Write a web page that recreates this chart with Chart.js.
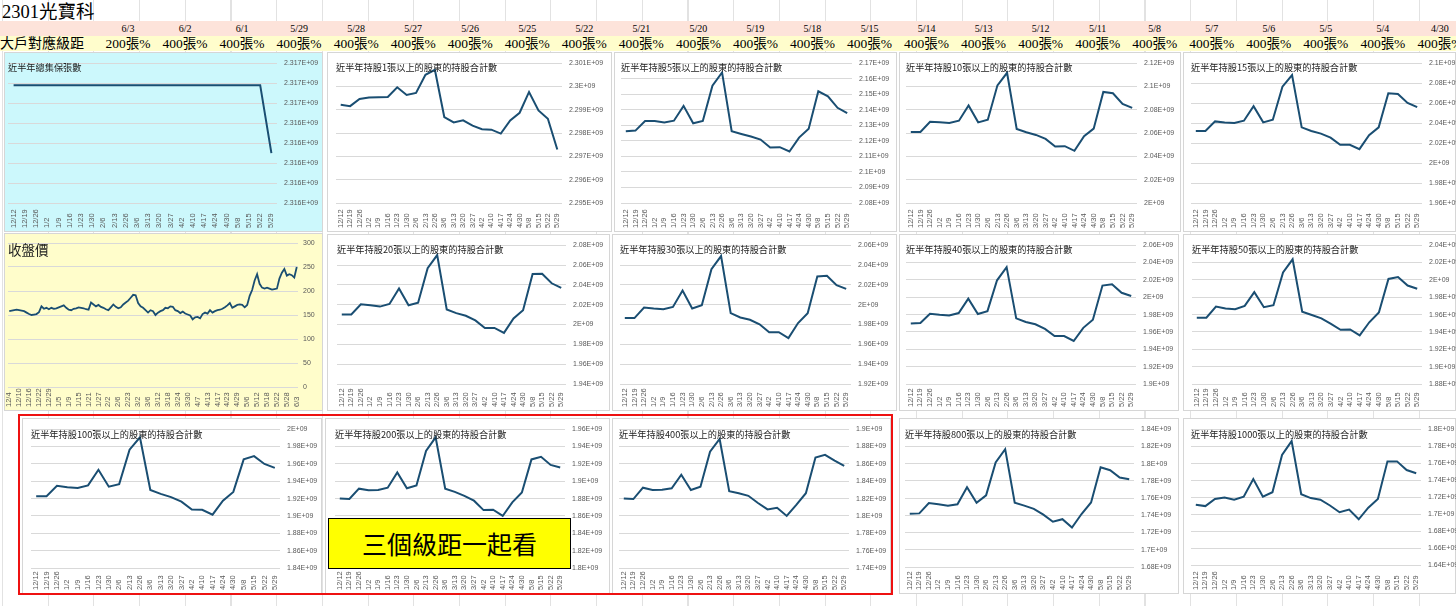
<!DOCTYPE html>
<html>
<head>
<meta charset="utf-8">
<script src="https://cdn.jsdelivr.net/npm/chart.js@4.4.0/dist/chart.umd.min.js"></script>
<style>
body{margin:0;width:1456px;height:606px;overflow:hidden;position:relative;background:#fff;
  background-image:repeating-linear-gradient(to right,#e2e2e2 0 1px,transparent 1px 45.7px);
  background-position:2px 0;font-family:"Liberation Serif","Noto Sans CJK TC",serif;}
.abs{position:absolute;}
.panel{position:absolute;outline:1px solid #d6d6d6;outline-offset:-1px;background:#fff;}
.panel canvas{position:absolute;left:0;top:0;}
#sheetTitle{left:2px;top:1px;font-size:18.5px;line-height:22px;}
#rowDates{left:0;top:21px;width:1456px;height:15px;background:#fde3da;}
#rowLevels{left:0;top:36px;width:1456px;height:15px;background:#fffdcc;}
.cell{position:absolute;top:0;width:56px;margin-left:-28px;text-align:center;white-space:nowrap;}
#rowDates .cell{font-size:10px;line-height:16px;}
#rowLevels .cell{font-size:13.5px;line-height:15px;}
#levelHead{left:0;top:0;font-size:14px;line-height:15px;}
#redBox{left:18px;top:414px;width:871px;height:177px;border:2px solid #ee1111;z-index:5;}
#noteBox{left:328px;top:518px;width:241px;height:49px;border:1px solid #000;background:#ffff00;z-index:6;
  font-family:"Noto Sans CJK TC",sans-serif;font-size:25px;line-height:49px;text-align:center;}
</style>
</head>
<body>
<div class="abs" id="sheetTitle">2301光寶科</div>
<div class="abs" id="rowDates"></div>
<div class="abs" id="rowLevels"><div class="abs" id="levelHead">大戶對應級距</div></div>

<script>
// header row
var headerDates = ['6/3','6/2','6/1','5/29','5/28','5/27','5/26','5/25','5/22','5/21','5/20','5/19',
  '5/18','5/15','5/14','5/13','5/12','5/11','5/8','5/7','5/6','5/5','5/4','4/30'];
var headerLevels = ['200張%','400張%','400張%','400張%','400張%','400張%','400張%','400張%','400張%',
  '400張%','400張%','400張%','400張%','400張%','400張%','400張%','400張%','400張%','400張%','400張%',
  '400張%','400張%','400張%','400張%'];

// weekly holder data
var weekDates = ['12/12','12/19','12/26','1/2','1/9','1/16','1/23','1/30','2/6','2/13','2/26','3/6',
  '3/13','3/20','3/27','4/2','4/10','4/17','4/24','4/30','5/8','5/15','5/22','5/29'];

var totalShares = [2.316518e9,2.316518e9,2.316518e9,2.316518e9,2.316518e9,2.316518e9,2.316518e9,2.316518e9,
  2.316518e9,2.316518e9,2.316518e9,2.316518e9,2.316518e9,2.316518e9,2.316518e9,2.316518e9,2.316518e9,
  2.316518e9,2.316518e9,2.316518e9,2.316518e9,2.316518e9,2.316518e9,2.31645e9];
var hold1 = [2.299213e9,2.299156e9,2.299468e9,2.299525e9,2.299539e9,2.299553e9,2.299965e9,2.299638e9,
  2.299723e9,2.300504e9,2.300716e9,2.298688e9,2.298461e9,2.298546e9,2.298319e9,2.298163e9,2.298149e9,
  2.297979e9,2.298546e9,2.298872e9,2.299766e9,2.298972e9,2.298617e9,2.297298e9];
var hold5 = [2.12617e9,2.12660e9,2.13277e9,2.13277e9,2.13191e9,2.13298e9,2.14255e9,2.13128e9,2.13277e9,
  2.15553e9,2.16404e9,2.12617e9,2.12447e9,2.12277e9,2.12085e9,2.11574e9,2.11596e9,2.11319e9,2.12213e9,
  2.12787e9,2.15191e9,2.14872e9,2.14128e9,2.13787e9];
var hold10 = [2.0610e9,2.0610e9,2.06979e9,2.06922e9,2.06865e9,2.07064e9,2.08369e9,2.06922e9,2.07149e9,
  2.10099e9,2.11177e9,2.06355e9,2.06071e9,2.05844e9,2.05504e9,2.04851e9,2.04879e9,2.04482e9,2.05730e9,
  2.06383e9,2.09532e9,2.09418e9,2.08511e9,2.08170e9];
var hold15 = [2.03212e9,2.03212e9,2.04172e9,2.04073e9,2.04007e9,2.04238e9,2.05695e9,2.04073e9,2.04338e9,
  2.07649e9,2.08808e9,2.03576e9,2.03212e9,2.02947e9,2.02550e9,2.01821e9,2.01821e9,2.01391e9,2.02781e9,
  2.03576e9,2.06987e9,2.06921e9,2.06026e9,2.05596e9];
var hold20 = [2.01013e9,2.01013e9,2.02040e9,2.01940e9,2.01808e9,2.02073e9,2.03629e9,2.01940e9,2.02205e9,
  2.05682e9,2.07007e9,2.01510e9,2.01146e9,2.00881e9,2.00417e9,1.99656e9,1.99656e9,1.99159e9,2.00616e9,
  2.01444e9,2.05086e9,2.05119e9,2.04159e9,2.03695e9];
var hold30 = [1.98649e9,1.98649e9,1.99709e9,1.99609e9,1.99543e9,1.99775e9,2.01430e9,1.99609e9,1.99940e9,
  2.03583e9,2.04907e9,1.99146e9,1.98715e9,1.98483e9,1.98020e9,1.97225e9,1.97225e9,1.96629e9,1.98152e9,
  1.99146e9,2.02854e9,2.02921e9,2.01960e9,2.01596e9];
var hold40 = [1.96964e9,1.97040e9,1.98098e9,1.97985e9,1.97909e9,1.98174e9,1.99837e9,1.98060e9,1.98401e9,
  2.01955e9,2.03467e9,1.97569e9,1.97153e9,1.96888e9,1.96359e9,1.95527e9,1.95527e9,1.94960e9,1.96473e9,
  1.97418e9,2.01350e9,2.01501e9,2.00518e9,2.00140e9];
var hold50 = [1.95645e9,1.95645e9,1.96930e9,1.96703e9,1.96628e9,1.97006e9,1.98594e9,1.96854e9,1.97081e9,
  2.00862e9,2.02374e9,1.96325e9,1.95947e9,1.95569e9,1.94926e9,1.94246e9,1.94284e9,1.93603e9,1.95115e9,
  1.96250e9,2.00106e9,2.00333e9,1.99350e9,1.98972e9];
var hold100 = [1.92285e9,1.92285e9,1.93483e9,1.93296e9,1.93221e9,1.93521e9,1.95318e9,1.93371e9,1.93670e9,
  1.97640e9,1.99064e9,1.92996e9,1.92547e9,1.92172e9,1.91648e9,1.90749e9,1.90712e9,1.90150e9,1.91760e9,
  1.92772e9,1.96517e9,1.96891e9,1.95993e9,1.95543e9];
var hold200 = [1.88022e9,1.87948e9,1.89146e9,1.88959e9,1.88996e9,1.89258e9,1.91019e9,1.89184e9,1.89521e9,
  1.93491e9,1.95064e9,1.89146e9,1.88772e9,1.88322e9,1.87760e9,1.86674e9,1.86712e9,1.86000e9,1.87573e9,
  1.88697e9,1.92517e9,1.92816e9,1.91880e9,1.91581e9];
var hold400 = [1.82022e9,1.81948e9,1.83258e9,1.82996e9,1.83034e9,1.83184e9,1.84757e9,1.82996e9,1.83371e9,
  1.87416e9,1.88876e9,1.82846e9,1.82622e9,1.82322e9,1.81498e9,1.80749e9,1.80936e9,1.80000e9,1.81273e9,
  1.82622e9,1.86742e9,1.87041e9,1.86367e9,1.85768e9];
var hold800 = [1.74187e9,1.74225e9,1.75423e9,1.75273e9,1.75124e9,1.75273e9,1.77258e9,1.75461e9,1.76322e9,
  1.80142e9,1.81678e9,1.75461e9,1.75124e9,1.74749e9,1.74075e9,1.73251e9,1.73551e9,1.72577e9,1.74150e9,
  1.75498e9,1.79581e9,1.79243e9,1.78382e9,1.78195e9];
var hold1000 = [1.71090e9,1.70938e9,1.71773e9,1.71962e9,1.71697e9,1.72038e9,1.74123e9,1.72038e9,1.72569e9,
  1.76967e9,1.78597e9,1.72341e9,1.71886e9,1.71697e9,1.71014e9,1.70218e9,1.70521e9,1.69384e9,1.70749e9,
  1.71773e9,1.76209e9,1.76209e9,1.75185e9,1.74806e9];

// daily close
var dayDates = ['12/4','12/5','12/8','12/9','12/10','12/11','12/12','12/15','12/16','12/17','12/18','12/19',
  '12/22','12/23','12/24','12/26','12/29','12/30','12/31',
  '1/2','1/5','1/6','1/7','1/8','1/9','1/12','1/13','1/14','1/15','1/16','1/19','1/20','1/21','1/22','1/23',
  '1/26','1/27','1/28','1/29','1/30',
  '2/2','2/3','2/4','2/5','2/6','2/9','2/10','2/11','2/23','2/24','2/25','2/26',
  '3/2','3/3','3/4','3/5','3/6','3/9','3/10','3/11','3/12','3/13','3/16','3/17','3/18','3/19','3/20',
  '3/23','3/24','3/25','3/26','3/27','3/30','3/31',
  '4/1','4/2','4/7','4/8','4/9','4/10','4/13','4/14','4/15','4/16','4/17','4/20','4/21','4/22','4/23',
  '4/24','4/27','4/28','4/29','4/30',
  '5/4','5/5','5/6','5/7','5/8','5/11','5/12','5/13','5/14','5/15','5/18','5/19','5/20','5/21','5/22',
  '5/25','5/26','5/27','5/28','5/29',
  '6/1','6/2','6/3'];
var closePrice = [158,159,160,161,160,159,158,155,152,150,151,152,156,168,163,165,162,165,163,
  164,166,168,170,165,161,160,163,164,166,165,164,162,161,176,172,168,171,167,165,162,
  160,166,172,167,164,166,172,176,180,186,192,191,
  175,168,165,160,155,160,158,150,155,158,160,165,164,168,167,160,158,154,157,153,151,149,
  141,145,146,143,152,155,153,160,155,158,160,161,163,166,170,175,165,168,171,172,
  171,166,171,190,202,222,235,215,207,205,207,205,203,204,205,226,238,246,232,235,
  233,228,250];

var chartTitles = ['近半年總集保張數','近半年持股1張以上的股東的持股合計數','近半年持股5張以上的股東的持股合計數',
  '近半年持股10張以上的股東的持股合計數','近半年持股15張以上的股東的持股合計數','收盤價',
  '近半年持股20張以上的股東的持股合計數','近半年持股30張以上的股東的持股合計數','近半年持股40張以上的股東的持股合計數',
  '近半年持股50張以上的股東的持股合計數','近半年持股100張以上的股東的持股合計數','近半年持股200張以上的股東的持股合計數',
  '近半年持股400張以上的股東的持股合計數','近半年持股800張以上的股東的持股合計數','近半年持股1000張以上的股東的持股合計數'];
var chartSeries = [totalShares,hold1,hold5,hold10,hold15,closePrice,hold20,hold30,hold40,hold50,
  hold100,hold200,hold400,hold800,hold1000];
var axisMin = [2.3164e9,2.295e9,2.08e9,2.00e9,1.96e9,0,1.94e9,1.92e9,1.90e9,1.88e9,1.84e9,1.80e9,1.74e9,1.68e9,1.64e9];
var axisMax = [2.31654e9,2.301e9,2.17e9,2.12e9,2.10e9,300,2.08e9,2.06e9,2.06e9,2.04e9,2.00e9,1.96e9,1.90e9,1.84e9,1.80e9];
var axisStep = [2e4,1e6,1e7,2e7,2e7,50,2e7,2e7,2e7,2e7,2e7,2e7,2e7,2e7,2e7];

// panel box x1,y1,x2,y2 and plot area l,t,r,b (page px)
var boxes = [
  [4,52,323,232, 8,62,277,203],
  [327,52,612,232, 336,62,562,203],
  [614,52,897,232, 621,62,852,203],
  [899,52,1181,232, 906,62,1137,203],
  [1183,52,1456,232, 1191,62,1422,203],
  [4,233,323,411, 8,243,298,387],
  [327,234,610,411, 337,243,566,384],
  [612,234,897,411, 620,243,851,384],
  [899,234,1179,411, 906,243,1136,384],
  [1183,234,1456,411, 1192,243,1422,384],
  [22,418,322,594, 31,426,280,568],
  [325,418,610,594, 335,426,565,568],
  [612,418,891,594, 619,426,849,568],
  [899,418,1179,594, 905,425,1134,567],
  [1183,418,1456,594, 1191,424,1421,565]
];

for (var k = 0; k < headerDates.length; k++) {
  var cx = 128 + 57.04 * k;
  var d = document.createElement('div');
  d.className = 'cell'; d.style.left = cx + 'px'; d.textContent = headerDates[k];
  document.getElementById('rowDates').appendChild(d);
  var e = document.createElement('div');
  e.className = 'cell'; e.style.left = cx + 'px'; e.textContent = headerLevels[k];
  document.getElementById('rowLevels').appendChild(e);
}

var titlePlugin = {
  id: 'panelTitle',
  afterDraw: function(chart, args, o) {
    var ctx = chart.ctx, a = chart.chartArea;
    ctx.save();
    ctx.font = o.size + 'px "Noto Sans CJK TC"';
    ctx.fillStyle = '#222';
    ctx.textBaseline = 'middle';
    ctx.fillText(o.text, a.left, a.top + o.dy);
    ctx.restore();
  }
};

var dateLabelPlugin = {
  id: 'dateLabels',
  afterDraw: function(chart, args, o) {
    var ctx = chart.ctx, xs = chart.scales.x;
    ctx.save();
    ctx.font = '7.5px "Liberation Sans"';
    ctx.fillStyle = '#595959';
    ctx.textAlign = 'left';
    ctx.textBaseline = 'middle';
    chart.data.labels.forEach(function(lab, i) {
      if (i % o.every) return;
      ctx.save();
      ctx.translate(xs.getPixelForValue(i), chart.height - 4);
      ctx.rotate(-Math.PI / 2);
      ctx.fillText(lab, 0, 0);
      ctx.restore();
    });
    ctx.restore();
  }
};

function eLabel(v) {
  return (Math.round(v / 1e6) / 1000) + 'E+09';
}

boxes.forEach(function(b, i) {
  var x1 = b[0], y1 = b[1], x2 = b[2], y2 = b[3], l = b[4], t = b[5], r = b[6], bt = b[7];
  var isPrice = (i === 5);
  var div = document.createElement('div');
  div.className = 'panel';
  div.style.left = x1 + 'px'; div.style.top = y1 + 'px';
  div.style.width = (x2 - x1) + 'px'; div.style.height = (y2 - y1) + 'px';
  if (i === 0) div.style.background = '#ccf8fc';
  if (isPrice) div.style.background = '#fffdcb';
  var cv = document.createElement('canvas');
  cv.width = x2 - x1; cv.height = y2 - y1;
  div.appendChild(cv);
  document.body.appendChild(div);

  new Chart(cv, {
    type: 'line',
    data: {
      labels: isPrice ? dayDates : weekDates,
      datasets: [{
        data: chartSeries[i],
        borderColor: '#1a4e72',
        borderWidth: isPrice ? 1.8 : 2,
        pointRadius: 0,
        tension: 0,
        fill: false
      }]
    },
    options: {
      responsive: false,
      animation: false,
      layout: { padding: { left: l - x1, top: t - y1, right: 0, bottom: 0 } },
      plugins: {
        legend: { display: false },
        tooltip: { enabled: false },
        panelTitle: { text: chartTitles[i], size: isPrice ? 13.5 : 9.2, dy: isPrice ? 7 : (i >= 10 ? 5 : 4) },
        dateLabels: { every: isPrice ? 4 : 1 }
      },
      scales: {
        x: {
          type: 'category',
          offset: true,
          grid: { display: false },
          border: { display: false },
          ticks: { display: false },
          afterFit: function(s) { s.height = y2 - bt; }
        },
        y: {
          position: 'right',
          min: axisMin[i],
          max: axisMax[i],
          grid: { color: '#d9d9d9', drawTicks: false },
          border: { display: false },
          ticks: {
            stepSize: axisStep[i],
            autoSkip: false,
            padding: isPrice ? 5 : 7,
            color: '#595959',
            font: { family: 'Liberation Sans', size: 7 },
            callback: function(v) { return isPrice ? v : eLabel(v); }
          },
          afterFit: function(s) { s.width = x2 - r; }
        }
      }
    },
    plugins: [titlePlugin, dateLabelPlugin]
  });
});
</script>
<div class="abs" id="redBox"></div>
<div class="abs" id="noteBox">三個級距一起看</div>
</body>
</html>
